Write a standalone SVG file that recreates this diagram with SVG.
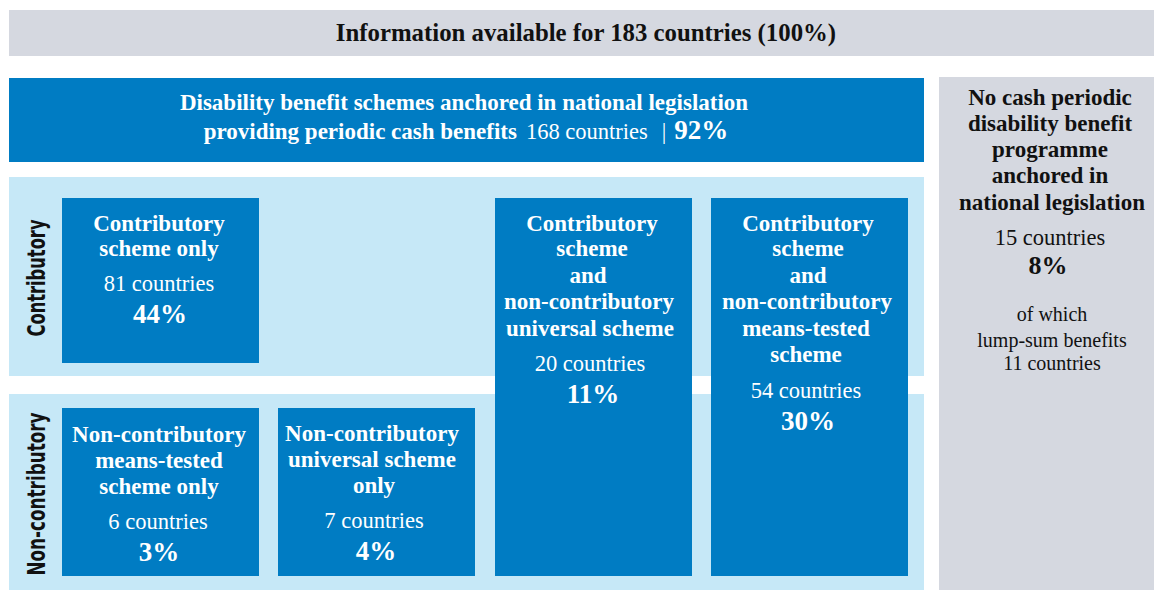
<svg xmlns="http://www.w3.org/2000/svg" width="1154" height="590" viewBox="0 0 1154 590">
<defs>
<style>
.gray{fill:#d5d8e0}
.blue{fill:#007cc3}
.light{fill:#c6e8f7}
text{font-family:"Liberation Serif","Times New Roman",serif;text-anchor:middle}
.b{font-weight:bold;font-size:23px}
.r{font-size:22.5px}
.s{font-size:20px}
.p{font-weight:bold;font-size:27px}
.w{fill:#ffffff}
.k{fill:#111111}
.side{font-family:"Liberation Sans Narrow","DejaVu Sans Condensed","Liberation Sans",sans-serif;font-weight:bold;font-size:24px;fill:#111111}
</style>
</defs>
<rect width="1154" height="590" fill="#ffffff"/>
<g id="bands">
<rect class="light" x="9" y="177" width="915" height="199"/>
<rect class="light" x="9" y="394" width="915" height="196"/>
</g>
<g id="title">
<rect class="gray" x="9" y="10" width="1145" height="46"/>
<text class="b k" x="586" y="41" style="font-size:24.8px">Information available for 183 countries (100%)</text>
</g>
<g id="header">
<rect class="blue" x="9" y="78" width="915" height="84"/>
<text class="b w" x="464" y="110">Disability benefit schemes anchored in national legislation</text>
<text class="w" x="466" y="139"><tspan class="b">providing periodic cash benefits</tspan><tspan class="r" dx="9">168 countries</tspan><tspan class="r" dx="14">|</tspan><tspan class="p" dx="8">92%</tspan></text>
</g>
<g id="no-cash">
<rect class="gray" x="939" y="77" width="215" height="513"/>
<text class="b k" x="1050" y="105">No cash periodic</text>
<text class="b k" x="1050" y="131">disability benefit</text>
<text class="b k" x="1050" y="157">programme</text>
<text class="b k" x="1050" y="183">anchored in</text>
<text class="b k" x="1052" y="210">national legislation</text>
<text class="r k" x="1050" y="245">15 countries</text>
<text class="p k" x="1048" y="274" style="font-size:26px">8%</text>
<text class="s k" x="1052" y="321">of which</text>
<text class="s k" x="1052" y="347">lump-sum benefits</text>
<text class="s k" x="1052" y="370">11 countries</text>
</g>
<g id="label-contributory">
<text class="side" transform="translate(45,278) rotate(-90)" textLength="117" lengthAdjust="spacingAndGlyphs">Contributory</text>
</g>
<g id="label-noncontributory">
<text class="side" transform="translate(45,494) rotate(-90)" textLength="163" lengthAdjust="spacingAndGlyphs">Non-contributory</text>
</g>
<g id="contrib-only">
<rect class="blue" x="62" y="198" width="197" height="165"/>
<text class="b w" x="159" y="231">Contributory</text>
<text class="b w" x="159" y="256">scheme only</text>
<text class="r w" x="159" y="291">81 countries</text>
<text class="p w" x="160" y="323">44%</text>
</g>
<g id="noncontrib-means">
<rect class="blue" x="62" y="408" width="197" height="168"/>
<text class="b w" x="159" y="442">Non-contributory</text>
<text class="b w" x="159" y="468">means-tested</text>
<text class="b w" x="159" y="494">scheme only</text>
<text class="r w" x="158" y="529">6 countries</text>
<text class="p w" x="159" y="561">3%</text>
</g>
<g id="noncontrib-universal">
<rect class="blue" x="278" y="408" width="197" height="168"/>
<text class="b w" x="372" y="441">Non-contributory</text>
<text class="b w" x="372" y="467">universal scheme</text>
<text class="b w" x="374" y="493">only</text>
<text class="r w" x="374" y="528">7 countries</text>
<text class="p w" x="376" y="560">4%</text>
</g>
<g id="contrib-universal">
<rect class="blue" x="495" y="198" width="197" height="378"/>
<text class="b w" x="592" y="231">Contributory</text>
<text class="b w" x="592" y="256">scheme</text>
<text class="b w" x="588" y="283">and</text>
<text class="b w" x="589" y="309">non-contributory</text>
<text class="b w" x="590" y="336">universal scheme</text>
<text class="r w" x="590" y="371">20 countries</text>
<text class="p w" x="593" y="403">11%</text>
</g>
<g id="contrib-means">
<rect class="blue" x="711" y="198" width="197" height="378"/>
<text class="b w" x="808" y="231">Contributory</text>
<text class="b w" x="808" y="256">scheme</text>
<text class="b w" x="808" y="283">and</text>
<text class="b w" x="807" y="309">non-contributory</text>
<text class="b w" x="806" y="336">means-tested</text>
<text class="b w" x="806" y="362">scheme</text>
<text class="r w" x="806" y="398">54 countries</text>
<text class="p w" x="808" y="430">30%</text>
</g>
<g id="connectors"></g>
</svg>
